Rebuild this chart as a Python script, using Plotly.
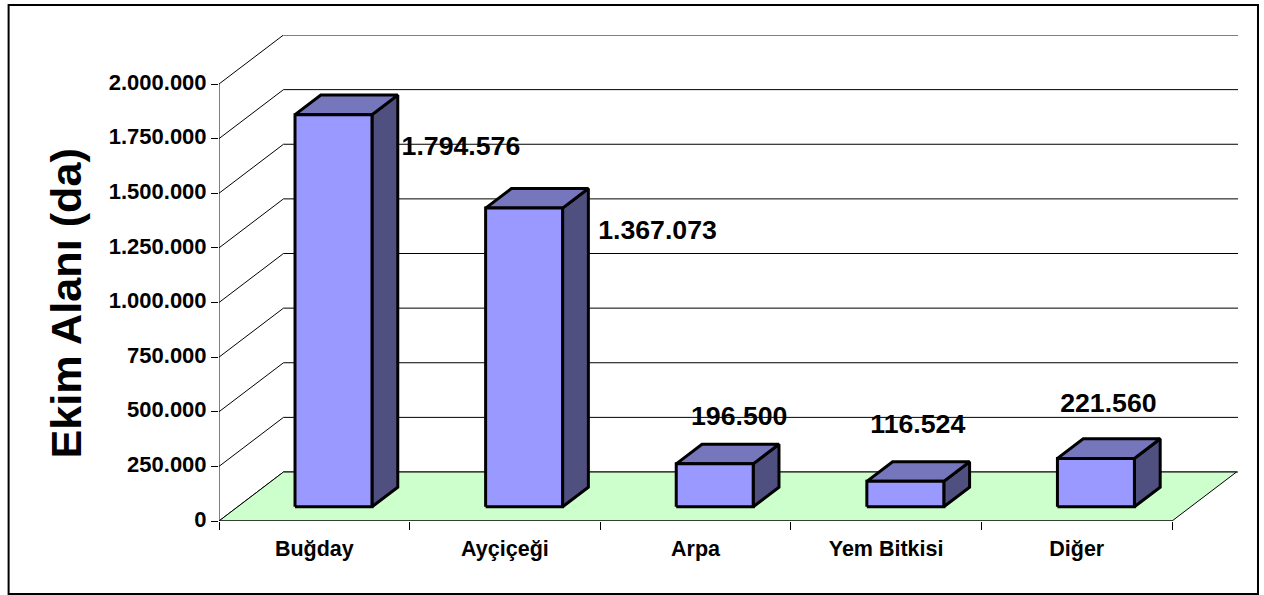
import plotly.graph_objects as go

categories = ["Buğday", "Ayçiçeği", "Arpa", "Yem Bitkisi", "Diğer"]
values = [1794576, 1367073, 196500, 116524, 221560]
value_labels = ["1.794.576", "1.367.073", "196.500", "116.524", "221.560"]
y_ticks = [0, 250000, 500000, 750000, 1000000, 1250000, 1500000, 1750000, 2000000]
y_tick_labels = ["0", "250.000", "500.000", "750.000", "1.000.000", "1.250.000",
                 "1.500.000", "1.750.000", "2.000.000"]

# geometry of the pseudo-3D box, pixels
W, H = 1264, 595
LEFT, RIGHT, TOP, BASE = 218.5, 1238.0, 35.0, 521.0
PX_PER_CAT = 190.7
PX_PER_VAL = 437.0 / 2000000
DEPTH_X_PX, DEPTH_Y_PX = 64.5, 49.0
xmax = (RIGHT - LEFT) / PX_PER_CAT
ymax = (BASE - TOP) / PX_PER_VAL
dx = DEPTH_X_PX / PX_PER_CAT
dy = DEPTH_Y_PX / PX_PER_VAL
bar_w = 77.0 / PX_PER_CAT
bar_front, bar_depth = 0.29, 0.40
bar_nudge = 0.5 / PX_PER_CAT

# label offsets from the bar's top centre, in pixels (x right, y up)
label_off_x = [128, 134, 25, 13, 13]
label_off_y = [-33.5, -24, 46, 55, 53]

BLACK = "#000000"
fig = go.Figure()


def line(xs, ys, width=1):
    fig.add_trace(go.Scatter(x=xs, y=ys, mode="lines", line=dict(color=BLACK, width=width),
                             hoverinfo="skip", showlegend=False, cliponaxis=False))


def poly(xs, ys, color, lw=3, lc=BLACK):
    fig.add_trace(go.Scatter(x=xs, y=ys, mode="lines", fill="toself", fillcolor=color,
                             line=dict(color=lc, width=lw), hoverinfo="skip",
                             showlegend=False, cliponaxis=False))


# walls
for v in y_ticks:
    line([0, dx, xmax], [v, v + dy, v + dy])
# floor
poly([0, 5, 5 + dx, dx, 0], [0, 0, dy, dy, 0], "#CCFFCC", lw=1)
# axes
line([0, 0], [0, 2000000])
line([0, 5], [0, 0])

# bars
for i, v in enumerate(values):
    x0 = i + 0.5 - bar_w / 2 + bar_front * dx + bar_nudge
    x1 = x0 + bar_w
    b0 = bar_front * dy
    ox, oy = bar_depth * dx, bar_depth * dy
    top = v + b0
    poly([x1, x1 + ox, x1 + ox, x1, x1], [b0, b0 + oy, top + oy, top, b0], "#4F4F80")
    poly([x0, x0 + ox, x1 + ox, x1, x0], [top, top + oy, top + oy, top, top], "#7676BD")
    poly([x0, x1, x1, x0, x0], [b0, b0, top, top, b0], "#9999FF")

# value labels
fig.add_trace(go.Scatter(
    x=[i + 0.5 + bar_front * dx + ox_ / PX_PER_CAT for i, ox_ in enumerate(label_off_x)],
    y=[v + bar_front * dy + oy_ / PX_PER_VAL for v, oy_ in zip(values, label_off_y)],
    mode="text", text=value_labels, textposition="middle center",
    textfont=dict(family="Liberation Sans", size=26.7, color=BLACK),
    texttemplate="<b>%{text}</b>", hoverinfo="skip", showlegend=False, cliponaxis=False))

fig.update_layout(
    width=W, height=H, autosize=False,
    margin=dict(l=LEFT, r=W - RIGHT, t=TOP, b=H - BASE, pad=0),
    paper_bgcolor="#FFFFFF", plot_bgcolor="rgba(0,0,0,0)",
    font=dict(family="Liberation Sans", color=BLACK),
    xaxis=dict(
        range=[0, xmax], showgrid=False, zeroline=False, showline=False,
        tickmode="array", tickvals=[i + 0.5 for i in range(5)],
        ticktext=[f"<b>{c}</b>" for c in categories],
        ticks="outside", ticklen=8, tickcolor="rgba(0,0,0,0)",
        tickfont=dict(size=21.5, family="Liberation Sans", color=BLACK), tickangle=0,
        minor=dict(tickmode="array", tickvals=list(range(6)), ticks="outside",
                   ticklen=8, tickcolor=BLACK, tickwidth=1, showgrid=False),
    ),
    yaxis=dict(
        range=[0, ymax], showgrid=False, zeroline=False, showline=False,
        tickmode="array", tickvals=y_ticks,
        ticktext=[f"<b>{t}</b>" for t in y_tick_labels],
        ticks="outside", ticklen=7, tickcolor=BLACK, tickwidth=1,
        ticklabelshift=-2,
        tickfont=dict(size=22, family="Liberation Sans", color=BLACK),
    ),
    shapes=[dict(type="rect", xref="paper", yref="paper", layer="below",
                 x0=(8 - LEFT) / (RIGHT - LEFT), x1=(1258 - LEFT) / (RIGHT - LEFT),
                 y0=(BASE - 594) / (BASE - TOP), y1=(BASE - 5) / (BASE - TOP),
                 line=dict(color=BLACK, width=2), fillcolor="#FFFFFF")],
    annotations=[dict(text="<b>Ekim Alanı (da)</b>", xref="paper", yref="paper",
                      x=(65 - LEFT) / (RIGHT - LEFT), y=(BASE - 304) / (BASE - TOP),
                      xanchor="center", yanchor="middle", textangle=-90, showarrow=False,
                      font=dict(size=43.2, family="Liberation Sans", color=BLACK))],
)

fig.write_html("out.html", config=dict(displayModeBar=False),
               post_script="document.body.style.margin='0';document.body.style.overflow='hidden';")
